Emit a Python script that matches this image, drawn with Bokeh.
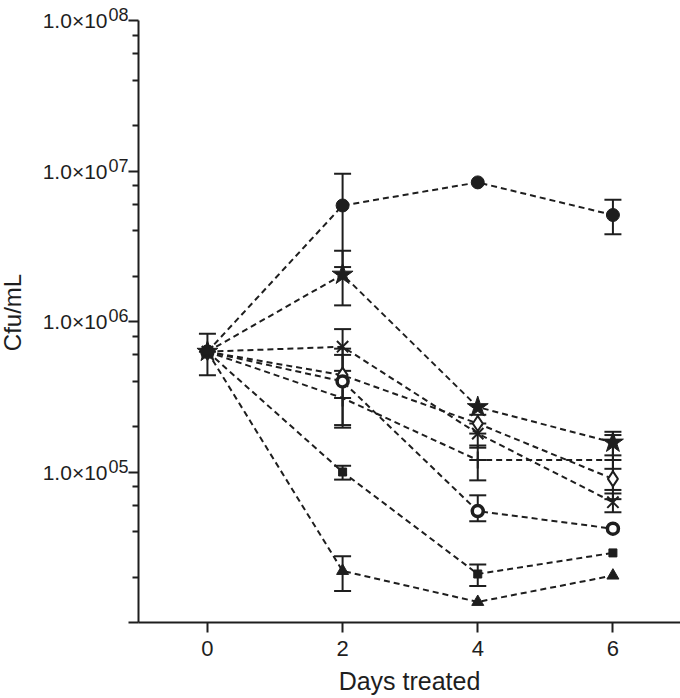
import math
from bokeh.plotting import figure
from bokeh.layouts import row
from bokeh.models import Range1d, FixedTicker, ColumnDataSource, Whisker, TeeHead
from bokeh.core.properties import value
from bokeh.embed import file_html
from bokeh.resources import INLINE

days = [0, 2, 4, 6]
x_ticks = [0, 2, 4, 6]
y_major = [1e4, 1e5, 1e6, 1e7, 1e8]
y_minor = [m * 10 ** e for e in range(4, 8) for m in (2, 4, 6, 8)]
y_label_values = [1e5, 1e6, 1e7, 1e8]
y_label_base = ["1.0×10", "1.0×10", "1.0×10", "1.0×10"]
y_label_exp = ["05", "06", "07", "08"]

# series values (cfu/mL) and error bar ends (None = not shown)
filled_circle = [6.3e5, 5.9e6, 8.4e6, 5.1e6]
filled_circle_up = [8.3e5, 9.6e6, None, 6.45e6]
filled_circle_lo = [4.4e5, 2.3e6, None, 3.8e6]

star = [6.3e5, 2.05e6, 2.7e5, 1.57e5]
star_up = [None, 2.95e6, None, 1.85e5]
star_lo = [None, 1.28e6, None, 1.29e5]

cross_x = [6.3e5, 6.8e5, 1.8e5, 6.3e4]
cross_x_up = [None, 8.9e5, 2.1e5, 7.2e4]
cross_x_lo = [None, 4.7e5, 1.45e5, 5.4e4]

diamond = [6.3e5, 4.4e5, 2.1e5, 9.0e4]
diamond_up = [None, 6.6e5, 2.4e5, 1.05e5]
diamond_lo = [None, 2.05e5, 1.8e5, 7.6e4]

plus = [6.3e5, 3.1e5, 1.2e5, 1.2e5]
plus_up = [None, None, 1.5e5, 1.76e5]
plus_lo = [None, None, 8.8e4, 6.6e4]

open_circle = [6.3e5, 4.0e5, 5.5e4, 4.2e4]
open_circle_up = [None, 6.0e5, 7.0e4, None]
open_circle_lo = [None, 1.97e5, 4.7e4, None]

square = [6.3e5, 1.0e5, 2.1e4, 2.9e4]
square_up = [None, 1.1e5, 2.43e4, None]
square_lo = [None, 8.9e4, 1.75e4, None]

triangle = [6.3e5, 2.2e4, 1.37e4, 2.05e4]
triangle_up = [None, 2.76e4, None, None]
triangle_lo = [None, 1.62e4, None, None]

INK = "#1e1e1e"
FONT = "Liberation Sans"
W, H = 680, 698
LEFT_W = 128
TOP, BOTTOM = 20, 76
Y_LO, Y_HI = 1e4, 1e8

# the frames start at the top edge; the axis itself stops at Y_HI, TOP px below the edge
lo_dec, hi_dec = math.log10(Y_LO), math.log10(Y_HI)
px_per_dec = (H - TOP - BOTTOM) / (hi_dec - lo_dec)
yr = Range1d(Y_LO, 10 ** (hi_dec + TOP / px_per_dec))

# ---- main plot ----
p = figure(width=W - LEFT_W, height=H, output_backend="svg", toolbar_location=None,
           y_axis_type="log", x_range=Range1d(-1.02, 7.0), y_range=yr,
           min_border_left=10, min_border_right=0, min_border_top=0, min_border_bottom=BOTTOM)
p.outline_line_color = None
p.grid.grid_line_color = None

series = [
    (filled_circle, filled_circle_up, filled_circle_lo, dict(marker="circle", size=13, fill_color=INK, line_color=INK)),
    (star, star_up, star_lo, dict(marker="star", size=22, fill_color=INK, line_color=INK)),
    (cross_x, cross_x_up, cross_x_lo, dict(marker="x", size=16, line_color=INK, line_width=2)),
    (diamond, diamond_up, diamond_lo, dict(marker="diamond", size=15, fill_color="white", line_color=INK, line_width=2)),
    (plus, plus_up, plus_lo, dict(marker="cross", size=17, line_color=INK, line_width=2)),
    (open_circle, open_circle_up, open_circle_lo, dict(marker="circle", size=11, fill_color="white", line_color=INK, line_width=3.5)),
    (square, square_up, square_lo, dict(marker="square", size=8, fill_color=INK, line_color=INK)),
    (triangle, triangle_up, triangle_lo, dict(marker="triangle", size=12, fill_color=INK, line_color=INK)),
]

for vals, up, lo, _ in series:
    p.line(days, vals, line_color=INK, line_width=2, line_dash="6 4")

for vals, up, lo, _ in series:
    xs = [d for d, u in zip(days, up) if u is not None]
    us = [u for u in up if u is not None]
    ls = [l for u, l in zip(up, lo) if u is not None]
    if xs:
        src = ColumnDataSource(dict(x=xs, upper=us, lower=ls))
        w = Whisker(source=src, base="x", upper="upper", lower="lower", dimension="height",
                    line_color=INK, line_width=2,
                    upper_head=TeeHead(size=17, line_color=INK, line_width=2),
                    lower_head=TeeHead(size=17, line_color=INK, line_width=2))
        p.add_layout(w)

for vals, up, lo, style in series:
    p.scatter(days, vals, **style)

for ax in (p.xaxis[0], p.yaxis[0]):
    ax.axis_line_color = INK
    ax.axis_line_width = 2
    ax.major_tick_line_color = INK
    ax.major_tick_line_width = 2
    ax.minor_tick_line_color = INK
    ax.minor_tick_line_width = 2
    ax.major_tick_out = 10
    ax.major_tick_in = 0
    ax.minor_tick_out = 6
    ax.minor_tick_in = 0
    ax.major_label_text_font = FONT
    ax.major_label_text_color = INK
    ax.axis_label_text_font = FONT
    ax.axis_label_text_font_style = "normal"
    ax.axis_label_text_color = INK

p.xaxis.ticker = FixedTicker(ticks=x_ticks, minor_ticks=[])
p.xaxis.major_label_text_font_size = "22px"
p.xaxis.major_label_standoff = 8
p.xaxis.axis_label = "Days treated"
p.xaxis.axis_label_text_font_size = "25px"
p.xaxis.axis_label_standoff = 8

p.yaxis.ticker = FixedTicker(ticks=y_major, minor_ticks=y_minor)
p.yaxis.bounds = (Y_LO, Y_HI)
p.yaxis.major_label_overrides = {v: "" for v in y_major}
p.yaxis.major_label_standoff = 0

# ---- left strip holding the y tick labels (with superscript exponents) and the y title ----
lp = figure(width=LEFT_W, height=H, output_backend="svg", toolbar_location=None,
            y_axis_type="log", x_range=Range1d(0, LEFT_W), y_range=yr,
            x_axis_location=None, y_axis_location=None,
            min_border_left=0, min_border_right=0, min_border_top=0, min_border_bottom=BOTTOM)
lp.outline_line_color = None
lp.grid.grid_line_color = None

lab_src = ColumnDataSource(dict(y=y_label_values, base=y_label_base, exp=y_label_exp,
                                xb=[LEFT_W - 21] * len(y_label_values),
                                xe=[LEFT_W] * len(y_label_values)))
lp.text(x="xb", y="y", text="base", source=lab_src, text_font=value(FONT),
        text_font_size="21px", text_color=INK, text_align="right", text_baseline="middle")
lp.text(x="xe", y="y", text="exp", source=lab_src, text_font=value(FONT),
        text_font_size="18px", text_color=INK, text_align="right", text_baseline="middle",
        y_offset=-6)

mid = 10 ** ((lo_dec + hi_dec) / 2)
lp.text(x=[12], y=[mid], text=["Cfu/mL"], angle=math.pi / 2, text_font=value(FONT),
        text_font_size="24px", text_color=INK, text_align="center", text_baseline="middle",
        y_offset=-9)

layout = row(lp, p, spacing=0)
open("out.html", "w").write(file_html(layout, INLINE))
